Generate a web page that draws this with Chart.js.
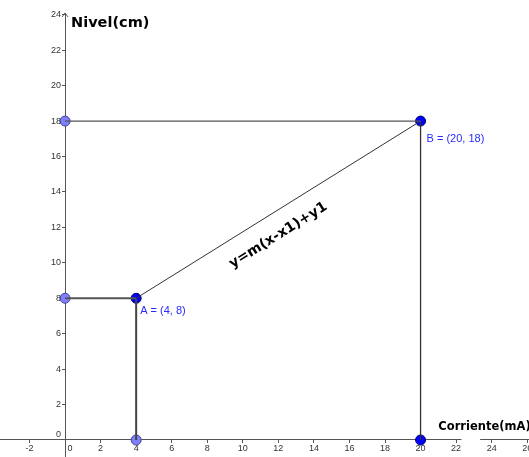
<!DOCTYPE html>
<html>
<head>
<meta charset="utf-8">
<script src="https://cdn.jsdelivr.net/npm/chart.js@4/dist/chart.umd.min.js"></script>
<style>
html,body{margin:0;padding:0;background:#fff;}
canvas{display:block;}
</style>
</head>
<body>
<canvas id="c" width="529" height="457"></canvas>
<script>
// ---- data ----
const xTickValues = [-2, 0, 2, 4, 6, 8, 10, 12, 14, 16, 18, 20, 22, 24, 26];
const yTickValues = [0, 2, 4, 6, 8, 10, 12, 14, 16, 18, 20, 22, 24];
const pointA = { x: 4, y: 8 };
const pointB = { x: 20, y: 18 };
const projectionPoints = [ { x: 0, y: 18 }, { x: 0, y: 8 }, { x: 4, y: 0 } ];
const mainPoints = [ pointA, pointB, { x: 20, y: 0 } ];
const labelA = 'A = (4, 8)';
const labelB = 'B = (20, 18)';
const formulaText = 'y=m(x-x1)+y1';
const xTitle = 'Corriente(mA)';
const yTitle = 'Nivel(cm)';
const xRange = [-3.66, 26.1];
const yRange = [-0.96, 24.1];

function seg(p, q, color, width) {
  return { type: 'scatter', data: [p, q], showLine: true, borderColor: color, borderWidth: width,
           pointRadius: 0, pointHoverRadius: 0, fill: false, tension: 0 };
}

const datasets = [
  seg({ x: 0, y: 18 }, pointB, '#555555', 1.3),
  seg(pointB, { x: 20, y: 0 }, '#333333', 1.3),
  seg({ x: 0, y: 8 }, pointA, '#555555', 2),
  seg(pointA, { x: 4, y: 0 }, '#444444', 2),
  seg(pointA, pointB, '#333333', 1),
  { type: 'scatter', data: projectionPoints, pointRadius: 5, pointBackgroundColor: '#7f7fff',
    pointBorderColor: '#44449a', pointBorderWidth: 1, showLine: false, clip: false },
  { type: 'scatter', data: mainPoints, pointRadius: 5, pointBackgroundColor: '#0000ff',
    pointBorderColor: '#00006a', pointBorderWidth: 1, showLine: false, clip: false }
];

const annotPlugin = {
  id: 'annot',
  afterDraw(chart) {
    const ctx = chart.ctx, xs = chart.scales.x, ys = chart.scales.y;
    const x0 = xs.getPixelForValue(0), y0 = ys.getPixelForValue(0);
    ctx.save();
    // arrow on y axis
    ctx.strokeStyle = '#555'; ctx.lineWidth = 1;
    const yt = ys.top;
    ctx.beginPath();
    ctx.moveTo(x0 - 3, yt + 4); ctx.lineTo(x0, yt); ctx.lineTo(x0 + 3, yt + 4);
    ctx.stroke();
    // gap in x axis
    ctx.fillStyle = '#fff';
    const g1 = xs.getPixelForValue(22.3), g2 = xs.getPixelForValue(23.35);
    ctx.fillRect(g1, y0 - 1.5, g2 - g1, 3);
    // tick labels from the scales
    ctx.fillStyle = '#333';
    ctx.font = '9px "Liberation Sans"';
    ctx.textBaseline = 'top'; ctx.textAlign = 'center';
    xs.ticks.forEach(t => {
      const px = xs.getPixelForValue(t.value) + (t.value === 0 ? 5 : 0);
      ctx.fillText(String(t.value), px, y0 + 4);
    });
    ctx.textBaseline = 'middle'; ctx.textAlign = 'right';
    ys.ticks.forEach(t => {
      const py = ys.getPixelForValue(t.value) - (t.value === 0 ? 5 : 0);
      ctx.fillText(String(t.value), x0 - 4, py);
    });
    // axis titles
    ctx.fillStyle = '#000';
    ctx.textBaseline = 'middle'; ctx.textAlign = 'left';
    ctx.font = 'bold 14.5px "DejaVu Sans"';
    ctx.fillText(yTitle, x0 + 6, ys.getPixelForValue(24) + 8);
    ctx.font = 'bold 11.5px "DejaVu Sans"';
    ctx.fillText(xTitle, xs.getPixelForValue(21.0), y0 - 13);
    // point labels
    ctx.fillStyle = '#2a2aff';
    ctx.font = '11px "Liberation Sans"';
    ctx.fillText(labelA, xs.getPixelForValue(pointA.x) + 4, ys.getPixelForValue(pointA.y) + 13);
    ctx.fillText(labelB, xs.getPixelForValue(pointB.x) + 6, ys.getPixelForValue(pointB.y) + 18);
    // formula along the line
    const ax = xs.getPixelForValue(pointA.x), ay = ys.getPixelForValue(pointA.y);
    const bx = xs.getPixelForValue(pointB.x), by = ys.getPixelForValue(pointB.y);
    const ang = Math.atan2(by - ay, bx - ax);
    ctx.translate(xs.getPixelForValue(12), ys.getPixelForValue(11.55));
    ctx.rotate(ang);
    ctx.fillStyle = '#000';
    ctx.textAlign = 'center';
    ctx.font = 'bold 14px "DejaVu Sans"';
    ctx.fillText(formulaText, 0, 0);
    ctx.restore();
  }
};

const noPad = s => { s.paddingLeft = 0; s.paddingRight = 0; s.paddingTop = 0; s.paddingBottom = 0; };

new Chart(document.getElementById('c'), {
  type: 'scatter',
  data: { datasets },
  plugins: [annotPlugin],
  options: {
    responsive: false,
    animation: false,
    devicePixelRatio: 1,
    layout: { padding: { top: 13, left: 0, right: 0, bottom: 0 }, autoPadding: false },
    plugins: { legend: { display: false }, tooltip: { enabled: false } },
    scales: {
      x: {
        type: 'linear', min: xRange[0], max: xRange[1], position: { y: 0 },
        afterBuildTicks: s => { s.ticks = xTickValues.map(v => ({ value: v })); },
        afterFit: noPad,
        grid: { drawOnChartArea: false, drawTicks: true, tickLength: 3, color: '#555' },
        border: { color: '#555', width: 1 },
        ticks: { display: false }
      },
      y: {
        type: 'linear', min: yRange[0], max: yRange[1], position: { x: 0 },
        afterBuildTicks: s => { s.ticks = yTickValues.map(v => ({ value: v })); },
        afterFit: noPad,
        grid: { drawOnChartArea: false, drawTicks: true, tickLength: 3, color: '#555' },
        border: { color: '#555', width: 1 },
        ticks: { display: false }
      }
    }
  }
});
</script>
</body>
</html>
